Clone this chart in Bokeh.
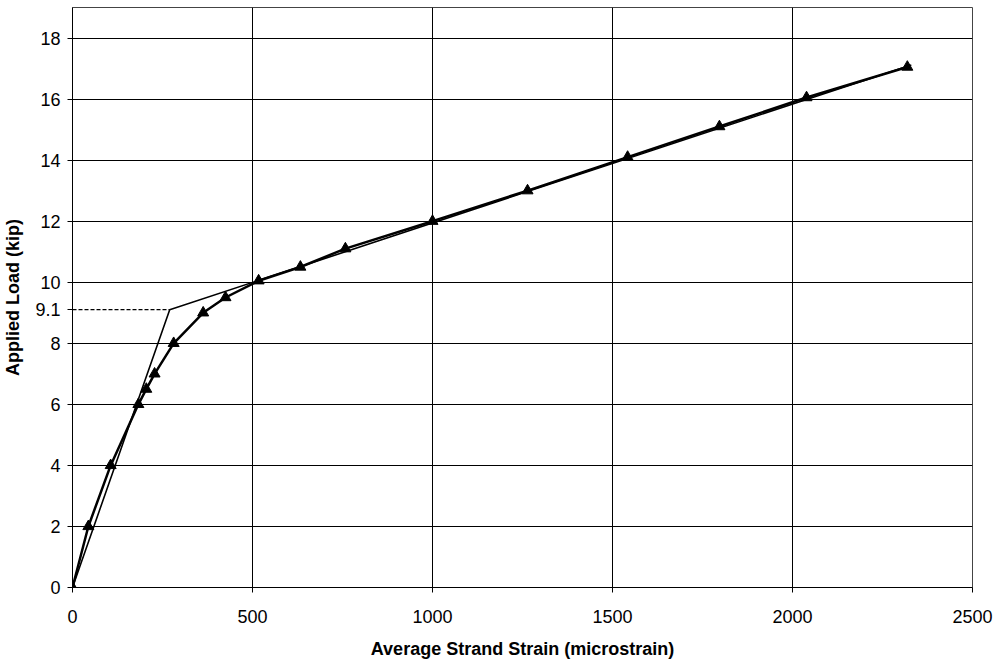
from bokeh.plotting import figure
from bokeh.models import FixedTicker, Range1d
from bokeh.embed import file_html
from bokeh.resources import INLINE

# measured data (average strand strain, applied load)
strain = [0, 44, 106, 183, 205, 228, 281, 363, 425, 517, 633, 758, 1000, 1264, 1542, 1797, 2039, 2319]
load = [0, 2.0, 4.0, 6.0, 6.5, 7.0, 8.0, 9.0, 9.5, 10.05, 10.5, 11.1, 12.0, 13.0, 14.1, 15.1, 16.05, 17.05]

# bilinear idealization
bi_strain = [0, 270, 2330]
bi_load = [0, 9.1, 17.12]

# yield marker
yield_strain = [0, 270]
yield_load = [9.1, 9.1]

x_ticks = [0, 500, 1000, 1500, 2000, 2500]
y_ticks = [0, 2, 4, 6, 8, 10, 12, 14, 16, 18]
y_extra_tick = 9.1

FONT = "Liberation Sans"

p = figure(width=993, height=665, output_backend="svg", toolbar_location=None,
           x_range=Range1d(0, 2500), y_range=Range1d(0, 19),
           min_border_left=72, min_border_right=21, min_border_top=7, min_border_bottom=78)
p.background_fill_color = "white"
p.border_fill_color = "white"
p.outline_line_color = "#444444"
p.outline_line_width = 1

p.xaxis.ticker = FixedTicker(ticks=x_ticks)
p.yaxis.ticker = FixedTicker(ticks=y_ticks + [y_extra_tick])
p.xgrid.ticker = FixedTicker(ticks=x_ticks)
p.ygrid.ticker = FixedTicker(ticks=y_ticks)
p.xgrid.grid_line_color = "black"
p.ygrid.grid_line_color = "black"
p.xgrid.grid_line_width = 1
p.ygrid.grid_line_width = 1
p.xgrid.grid_line_alpha = 1
p.ygrid.grid_line_alpha = 1

for ax in (p.xaxis, p.yaxis):
    ax.axis_line_color = "black"
    ax.axis_line_width = 1
    ax.major_tick_line_color = "black"
    ax.major_tick_out = 5
    ax.major_tick_in = 0
    ax.minor_tick_line_color = None
    ax.major_label_text_font = FONT
    ax.major_label_text_font_size = "18px"
    ax.major_label_text_color = "black"
    ax.axis_label_text_font = FONT
    ax.axis_label_text_font_size = "18px"
    ax.axis_label_text_font_style = "bold"
    ax.axis_label_text_color = "black"

p.xaxis.axis_label = "Average Strand Strain (microstrain)"
p.yaxis.axis_label = "Applied Load (kip)"
p.xaxis.major_label_standoff = 17
p.xaxis.axis_label_standoff = 13
p.yaxis.major_label_standoff = 7
p.yaxis.axis_label_standoff = 9

p.line(yield_strain, yield_load, line_color="black", line_width=1.2, line_dash="4 2")
p.line(bi_strain, bi_load, line_color="black", line_width=1.6)
p.line(strain, load, line_color="black", line_width=2.5)
p.scatter(strain, load, marker="triangle", size=11, fill_color="black", line_color="black")

open("out.html", "w").write(file_html(p, INLINE))
